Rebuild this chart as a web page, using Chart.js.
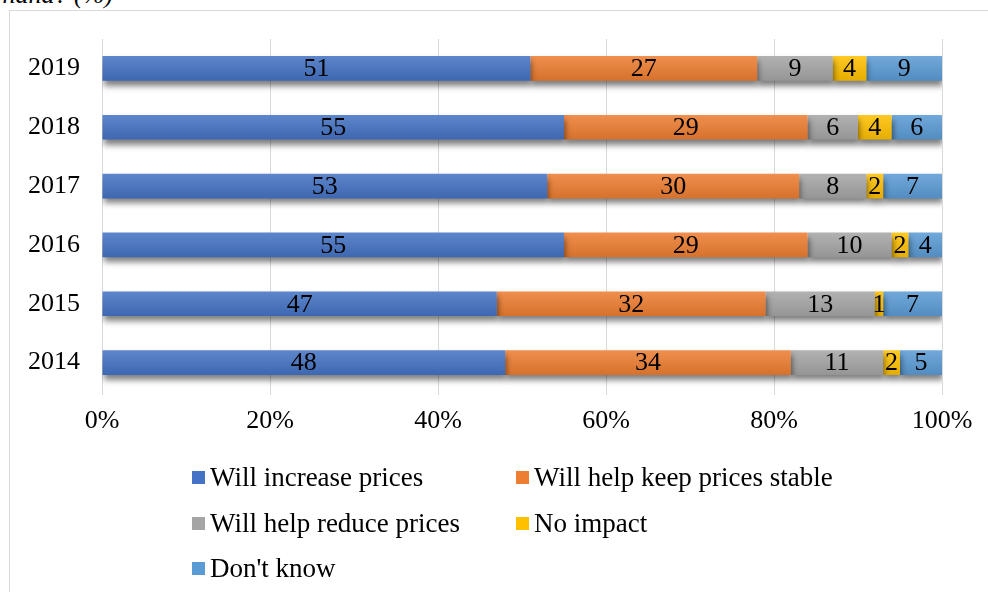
<!DOCTYPE html>
<html>
<head>
  <meta charset="UTF-8">
  <title>Impact on prices</title>
  <script src="https://cdn.jsdelivr.net/npm/chart.js"></script>
  <style>
    html, body { margin: 0; padding: 0; background: #fff; overflow: hidden; }
    body { width: 988px; height: 592px; position: relative; font-family: "Liberation Serif", "Times New Roman", serif; }
    #caption { position: absolute; left: -187px; top: -18px; width: 300px; text-align: right;
               font-style: italic; font-size: 26px; line-height: 1; color: #000; white-space: nowrap; }
    #frame { position: absolute; left: 9px; top: 10px; width: 1200px; height: 1200px; border: 1px solid #d9d9d9; }
    #wrap { position: absolute; left: 0; top: 0; width: 988px; height: 592px; }
    #legend { position: absolute; left: 192px; top: 455px; display: grid;
              grid-template-columns: 324px 324px; grid-auto-rows: 45.5px; font-size: 27px; color: #000; }
    #legend .item { display: flex; align-items: center; white-space: nowrap; }
    #legend .box { width: 13px; height: 13px; margin-right: 5px; flex: none; }
  </style>
</head>
<body>
  <div id="caption">in Ghana? (%)</div>
  <div id="frame"></div>
  <div id="wrap"><canvas id="priceChart"></canvas></div>
  <div id="legend"></div>

  <script>
    // survey years, top to bottom
    const years = ['2019', '2018', '2017', '2016', '2015', '2014'];

    // share of answers per year (%)
    const increasePrices = [51, 55, 53, 55, 47, 48];
    const keepStable     = [27, 29, 30, 29, 32, 34];
    const reducePrices   = [9, 6, 8, 10, 13, 11];
    const noImpact       = [4, 4, 2, 2, 1, 2];
    const dontKnow       = [9, 6, 7, 4, 7, 5];

    const seriesNames = ['Will increase prices', 'Will help keep prices stable',
                         'Will help reduce prices', 'No impact', "Don't know"];
    const seriesColors = ['#4472C4', '#ED7D31', '#A5A5A5', '#FFC000', '#5B9BD5'];
    const xTickValues = [0, 20, 40, 60, 80, 100];

    const FONT = '"Liberation Serif", "Times New Roman", serif';

    function lighten(hex, amt) {
      const n = parseInt(hex.slice(1), 16);
      const mix = c => Math.round(c + (255 - c) * amt);
      return `rgb(${mix(n >> 16)}, ${mix((n >> 8) & 255)}, ${mix(n & 255)})`;
    }
    function darken(hex, amt) {
      const n = parseInt(hex.slice(1), 16);
      const mix = c => Math.round(c * (1 - amt));
      return `rgb(${mix(n >> 16)}, ${mix((n >> 8) & 255)}, ${mix(n & 255)})`;
    }

    // soft vertical gradient on each bar, like the office chart style
    function barFill(color) {
      return ctx => {
        const chart = ctx.chart;
        const yScale = chart.scales.y;
        if (!chart.chartArea || !yScale) return color;
        const mid = yScale.getPixelForValue(ctx.dataIndex);
        const half = yScale.height / years.length * 0.42 / 2;
        const g = chart.ctx.createLinearGradient(0, mid - half, 0, mid + half);
        g.addColorStop(0, lighten(color, 0.14));
        g.addColorStop(1, darken(color, 0.1));
        return g;
      };
    }

    const seriesData = [increasePrices, keepStable, reducePrices, noImpact, dontKnow];

    const datasets = seriesData.map((data, i) => ({
      label: seriesNames[i],
      data: data,
      backgroundColor: barFill(seriesColors[i]),
      borderWidth: 0,
      barPercentage: 0.7,
      categoryPercentage: 0.6
    }));

    // drop shadow under the bars
    const barShadow = {
      id: 'barShadow',
      beforeDatasetsDraw(chart) {
        const c = chart.ctx;
        c.save();
        c.shadowColor = 'rgba(0,0,0,0.5)';
        c.shadowBlur = 6;
        c.shadowOffsetX = 1;
        c.shadowOffsetY = 5;
      },
      afterDatasetsDraw(chart) {
        chart.ctx.restore();
      }
    };

    // value written in the middle of each segment
    const segmentLabels = {
      id: 'segmentLabels',
      afterDatasetsDraw(chart) {
        const c = chart.ctx;
        c.save();
        c.font = `26px ${FONT}`;
        c.fillStyle = '#000';
        c.textAlign = 'center';
        c.textBaseline = 'middle';
        chart.data.datasets.forEach((ds, di) => {
          chart.getDatasetMeta(di).data.forEach((bar, i) => {
            const { x, y, base } = bar.getProps(['x', 'y', 'base'], true);
            c.fillText(String(ds.data[i]), (x + base) / 2, y + 1);
          });
        });
        c.restore();
      }
    };

    new Chart(document.getElementById('priceChart'), {
      type: 'bar',
      data: { labels: years, datasets: datasets },
      plugins: [barShadow, segmentLabels],
      options: {
        indexAxis: 'y',
        responsive: true,
        maintainAspectRatio: false,
        animation: false,
        layout: { padding: { left: 0, right: 46, top: 39, bottom: 140 } },
        plugins: {
          legend: { display: false },
          tooltip: { enabled: false }
        },
        scales: {
          x: {
            stacked: true,
            min: 0,
            max: 100,
            afterBuildTicks: scale => { scale.ticks = xTickValues.map(v => ({ value: v })); },
            afterFit: scale => { scale.height = 60; },
            grid: { color: '#d9d9d9', lineWidth: 1, drawTicks: true, tickLength: 3 },
            border: { display: false },
            ticks: {
              padding: 11,
              color: '#000',
              font: { family: FONT, size: 26 },
              callback: v => v + '%'
            }
          },
          y: {
            stacked: true,
            afterFit: scale => { scale.width = 102; },
            grid: { display: false, drawTicks: false },
            border: { display: false },
            ticks: {
              padding: 22,
              color: '#000',
              font: { family: FONT, size: 26 }
            }
          }
        }
      }
    });

    // legend in two columns under the plot
    const legend = document.getElementById('legend');
    seriesNames.forEach((name, i) => {
      const item = document.createElement('div');
      item.className = 'item';
      const box = document.createElement('span');
      box.className = 'box';
      box.style.background = seriesColors[i];
      const txt = document.createElement('span');
      txt.textContent = name;
      item.appendChild(box);
      item.appendChild(txt);
      legend.appendChild(item);
    });
  </script>
</body>
</html>
